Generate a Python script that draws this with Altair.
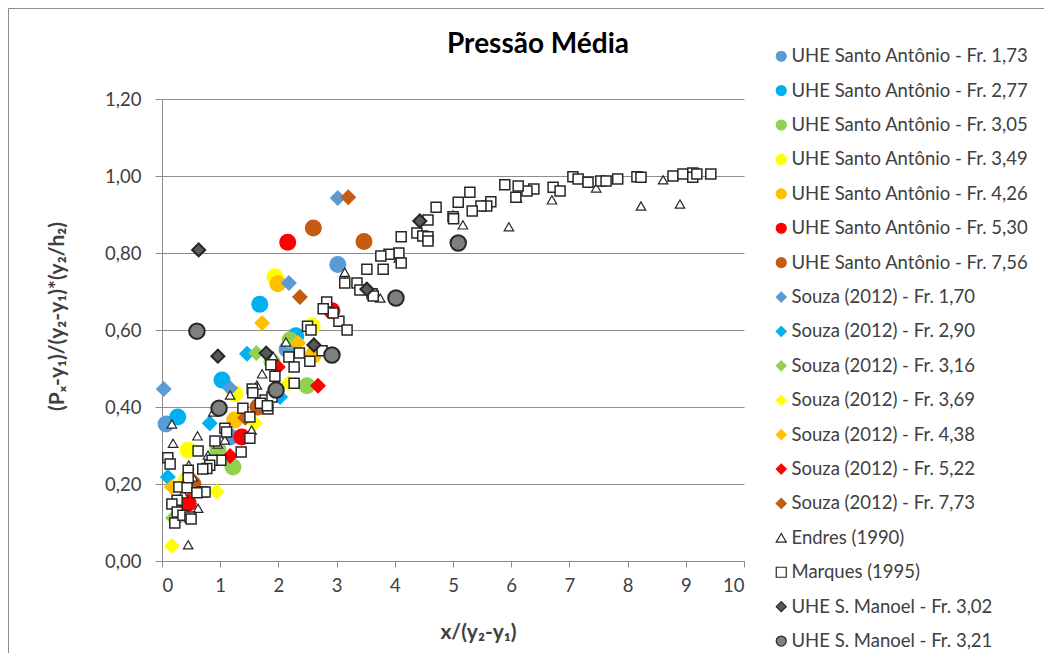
import altair as alt
import pandas as pd

# ---------------- data ----------------
series_names = [
    "UHE Santo Antônio - Fr. 1,73",
    "UHE Santo Antônio - Fr. 2,77",
    "UHE Santo Antônio - Fr. 3,05",
    "UHE Santo Antônio - Fr. 3,49",
    "UHE Santo Antônio - Fr. 4,26",
    "UHE Santo Antônio - Fr. 5,30",
    "UHE Santo Antônio - Fr. 7,56",
    "Souza (2012) - Fr. 1,70",
    "Souza (2012) - Fr. 2,90",
    "Souza (2012) - Fr. 3,16",
    "Souza (2012) - Fr. 3,69",
    "Souza (2012) - Fr. 4,38",
    "Souza (2012) - Fr. 5,22",
    "Souza (2012) - Fr. 7,73",
    "Endres (1990)",
    "Marques (1995)",
    "UHE S. Manoel - Fr. 3,02",
    "UHE S. Manoel - Fr. 3,21",
]
fill_colors = ["#5B9BD5", "#00B0F0", "#92D050", "#FFFF00", "#FFC000", "#FF0000", "#C55A11",
               "#5B9BD5", "#00B0F0", "#92D050", "#FFFF00", "#FFC000", "#FF0000", "#C55A11",
               "#FFFFFF", "#FFFFFF", "#595959", "#7F7F7F"]
stroke_colors = ["#5B9BD5", "#00B0F0", "#92D050", "#FFFF00", "#FFC000", "#FF0000", "#C55A11",
                 "#5B9BD5", "#00B0F0", "#92D050", "#FFFF00", "#FFC000", "#FF0000", "#C55A11",
                 "#262626", "#262626", "#262626", "#262626"]
shapes = ["circle"] * 7 + ["diamond"] * 7 + ["triangle-up", "square", "diamond", "circle"]

sa173_x = [0.07, 1.17, 2.15, 3.02]
sa173_y = [0.356, 0.322, 0.55, 0.77]
sa277_x = [0.27, 1.03, 1.68, 2.30]
sa277_y = [0.374, 0.47, 0.667, 0.585]
sa305_x = [1.22, 2.49, 1.89, 2.20, 0.96, 0.30]
sa305_y = [0.244, 0.455, 0.517, 0.574, 0.29, 0.12]
sa349_x = [1.94, 2.58, 0.45, 1.25, 0.42]
sa349_y = [0.738, 0.61, 0.288, 0.435, 0.21]
sa426_x = [1.99, 2.60, 1.25, 0.48]
sa426_y = [0.72, 0.535, 0.366, 0.21]
sa530_x = [2.16, 2.92, 1.37, 0.45]
sa530_y = [0.828, 0.65, 0.322, 0.15]
sa756_x = [2.60, 3.47, 1.65, 0.53]
sa756_y = [0.865, 0.83, 0.40, 0.20]

sz170_x = [3.02, 2.18, 0.03, 1.17]
sz170_y = [0.943, 0.722, 0.447, 0.449]
sz290_x = [1.46, 0.82, 0.10, 2.03]
sz290_y = [0.538, 0.358, 0.218, 0.426]
sz316_x = [1.62, 0.19, 2.20]
sz316_y = [0.54, 0.112, 0.575]
sz369_x = [0.17, 0.94, 2.17, 1.60]
sz369_y = [0.039, 0.18, 0.462, 0.358]
sz438_x = [1.72, 2.34, 0.17]
sz438_y = [0.618, 0.566, 0.192]
sz522_x = [2.68, 1.99, 1.17, 0.45]
sz522_y = [0.455, 0.504, 0.273, 0.156]
sz773_x = [3.20, 2.37, 1.43, 0.50]
sz773_y = [0.945, 0.686, 0.372, 0.19]

endres_x = [9.42, 8.90, 8.23, 8.61, 7.46, 6.70, 5.96, 6.10, 5.17, 5.00, 4.07, 3.75, 3.14, 3.14,
            2.82, 2.13, 1.91, 1.72, 1.63, 1.17, 0.88, 0.17, 0.19, 0.61, 1.08, 1.54, 0.96, 0.79,
            0.46, 0.70, 0.53, 0.62, 0.45, 0.36, 0.30, 0.85]
endres_y = [1.005, 0.927, 0.922, 0.990, 0.969, 0.938, 0.868, 0.943, 0.873, 0.899, 0.787, 0.683,
            0.750, 0.725, 0.673, 0.569, 0.532, 0.486, 0.457, 0.431, 0.387, 0.356, 0.306, 0.325,
            0.314, 0.340, 0.304, 0.275, 0.249, 0.239, 0.218, 0.137, 0.042, 0.175, 0.130, 0.260]

marques_x = [7.06, 7.15, 7.32, 7.54, 7.63, 7.83, 8.16, 8.23, 8.78, 8.95, 9.12, 9.12, 9.19, 9.43,
             6.72, 6.84, 6.39, 6.27, 6.12, 5.89, 6.08, 5.65, 5.58, 5.48, 5.29, 5.33, 5.09, 5.00,
             5.01, 4.71, 4.57, 4.38, 4.48, 4.57, 4.57, 4.11, 4.07, 4.11, 3.90, 3.76, 3.52, 3.80,
             3.35, 3.40, 3.61, 3.14, 3.63, 3.04, 3.18, 2.94, 2.83, 2.77, 2.50, 2.56,
             2.75, 2.36, 2.18, 2.54, 2.27, 1.94, 1.87, 2.27, 1.55, 1.56, 1.77, 1.89, 1.82, 1.39,
             1.51, 1.08, 1.11, 0.91, 1.51, 1.36, 0.62, 0.10, 0.14, 1.01, 0.86, 0.82, 0.77, 0.70,
             0.45, 0.45, 0.29, 0.43, 0.69, 0.74, 0.60, 0.26, 0.17, 0.26, 0.22, 0.36, 0.48, 0.50,
             1.69, 1.81]
marques_y = [0.998, 0.992, 0.984, 0.987, 0.987, 0.992, 0.998, 0.997, 1.000, 1.005, 1.008, 0.997,
             1.005, 1.005, 0.971, 0.961, 0.966, 0.961, 0.974, 0.977, 0.945, 0.933, 0.922, 0.922,
             0.958, 0.909, 0.932, 0.894, 0.889, 0.919, 0.886, 0.852, 0.844, 0.842, 0.831, 0.842,
             0.800, 0.774, 0.797, 0.792, 0.758, 0.758, 0.722, 0.704, 0.694, 0.722, 0.688, 0.623,
             0.600, 0.644, 0.673, 0.655, 0.610, 0.600,
             0.546, 0.540, 0.530, 0.519, 0.504, 0.480, 0.510, 0.462, 0.447, 0.437, 0.418, 0.426,
             0.395, 0.397, 0.374, 0.345, 0.335, 0.312, 0.319, 0.283, 0.286, 0.268, 0.252, 0.262,
             0.262, 0.249, 0.240, 0.239, 0.236, 0.216, 0.192, 0.190, 0.179, 0.179, 0.177, 0.158,
             0.148, 0.127, 0.099, 0.119, 0.114, 0.109, 0.410, 0.403]

sm302_x = [0.63, 0.96, 1.79, 2.61, 4.43, 3.52]
sm302_y = [0.808, 0.532, 0.54, 0.561, 0.883, 0.706]
sm321_x = [0.60, 2.92, 1.96, 0.98, 5.09, 4.02]
sm321_y = [0.597, 0.535, 0.444, 0.397, 0.826, 0.683]

y_ticks = [0.0, 0.2, 0.4, 0.6, 0.8, 1.0, 1.2]
x_ticks = [0, 1, 2, 3, 4, 5, 6, 7, 8, 9, 10]

# ---------------- table ----------------
all_xy = [
    (sa173_x, sa173_y, "sa"), (sa277_x, sa277_y, "sa"), (sa305_x, sa305_y, "sa"),
    (sa349_x, sa349_y, "sa"), (sa426_x, sa426_y, "sa"), (sa530_x, sa530_y, "sa"),
    (sa756_x, sa756_y, "sa"),
    (sz170_x, sz170_y, "sz"), (sz290_x, sz290_y, "sz"), (sz316_x, sz316_y, "sz"),
    (sz369_x, sz369_y, "sz"), (sz438_x, sz438_y, "sz"), (sz522_x, sz522_y, "sz"),
    (sz773_x, sz773_y, "sz"),
    (endres_x, endres_y, "en"), (marques_x, marques_y, "ma"),
    (sm302_x, sm302_y, "smd"), (sm321_x, sm321_y, "smc"),
]
rows = []
for name, (xs, ys, grp) in zip(series_names, all_xy):
    for xv, yv in zip(xs, ys):
        rows.append({"x": xv, "y": yv, "series": name, "grp": grp})
df = pd.DataFrame(rows)

FONT = "Lato"
GRID = "#8C8C8C"

x_enc = alt.X("x:Q", scale=alt.Scale(domain=[0, 10], nice=False),
              axis=alt.Axis(values=x_ticks, grid=False, title="x/(y₂-y₁)",
                            tickSize=6, labelPadding=9, titleX=316, titleY=71,
                            titleBaseline="middle", titleAlign="center"))
y_enc = alt.Y("y:Q", scale=alt.Scale(domain=[0, 1.2], nice=False),
              axis=alt.Axis(values=y_ticks, grid=True, title="(Pₓ-y₁)/(y₂-y₁)*(y₂/h₂)",
                            labelExpr="replace(format(datum.value, '.2f'), '.', ',')",
                            tickSize=7, labelPadding=14, titleX=-105, titleY=217,
                            titleBaseline="middle", titleAlign="center"))
fill_enc = alt.Fill("series:N", scale=alt.Scale(domain=series_names, range=fill_colors),
                    legend=alt.Legend(title=None), sort=series_names)
stroke_enc = alt.Stroke("series:N", scale=alt.Scale(domain=series_names, range=stroke_colors),
                        legend=alt.Legend(title=None), sort=series_names)
shape_enc = alt.Shape("series:N", scale=alt.Scale(domain=series_names, range=shapes),
                      legend=alt.Legend(title=None), sort=series_names)

base = alt.Chart(df).encode(x=x_enc, y=y_enc, fill=fill_enc, stroke=stroke_enc, shape=shape_enc)

sa = base.transform_filter("datum.grp == 'sa'").mark_point(filled=True, size=289, opacity=1, strokeWidth=0)
sz = base.transform_filter("datum.grp == 'sz'").mark_point(filled=True, size=256, opacity=1, strokeWidth=0)
en = base.transform_filter("datum.grp == 'en'").mark_point(filled=True, size=90, opacity=1, strokeWidth=1.2)
ma = base.transform_filter("datum.grp == 'ma'").mark_point(filled=True, size=100, opacity=1, strokeWidth=1.5)
smd = base.transform_filter("datum.grp == 'smd'").mark_point(filled=True, size=170, opacity=1, strokeWidth=2)
smc = base.transform_filter("datum.grp == 'smc'").mark_point(filled=True, size=240, opacity=1, strokeWidth=2)

frame = alt.Chart(pd.DataFrame({"k": [0]})).mark_rect(
    fill=None, stroke="#8C8C8C", strokeWidth=1
).encode(x=alt.value(-153.5), x2=alt.value(1200), y=alt.value(-90.5), y2=alt.value(900))

chart = alt.layer(frame, sa, sz, en, ma, smd, smc).properties(
    width=582, height=462,
    autosize=alt.AutoSizeParams(type="none"),
    padding={"left": 154, "top": 91, "right": 300, "bottom": 92},
    title=alt.TitleParams("Pressão Média", font=FONT, fontSize=28, fontWeight="bold",
                          color="#000000", anchor="middle", dx=85, offset=-73,
                          baseline="alphabetic"),
).configure_view(stroke=None).configure_axis(
    labelFont=FONT, labelFontSize=18.5, labelColor="#404040",
    titleFont=FONT, titleFontSize=21, titleFontWeight="bold", titleColor="#404040",
    domainColor=GRID, tickColor=GRID, gridColor=GRID, gridWidth=1, domainWidth=1,
).configure_legend(
    orient="none", legendX=610, legendY=-52, labelFont=FONT, labelFontSize=18.5,
    labelColor="#404040", symbolSize=100, symbolStrokeWidth=1.2, rowPadding=15.4,
    labelOffset=1, labelLimit=400, padding=0,
)

chart.save("out.html", embed_options={"renderer": "svg", "actions": False})
